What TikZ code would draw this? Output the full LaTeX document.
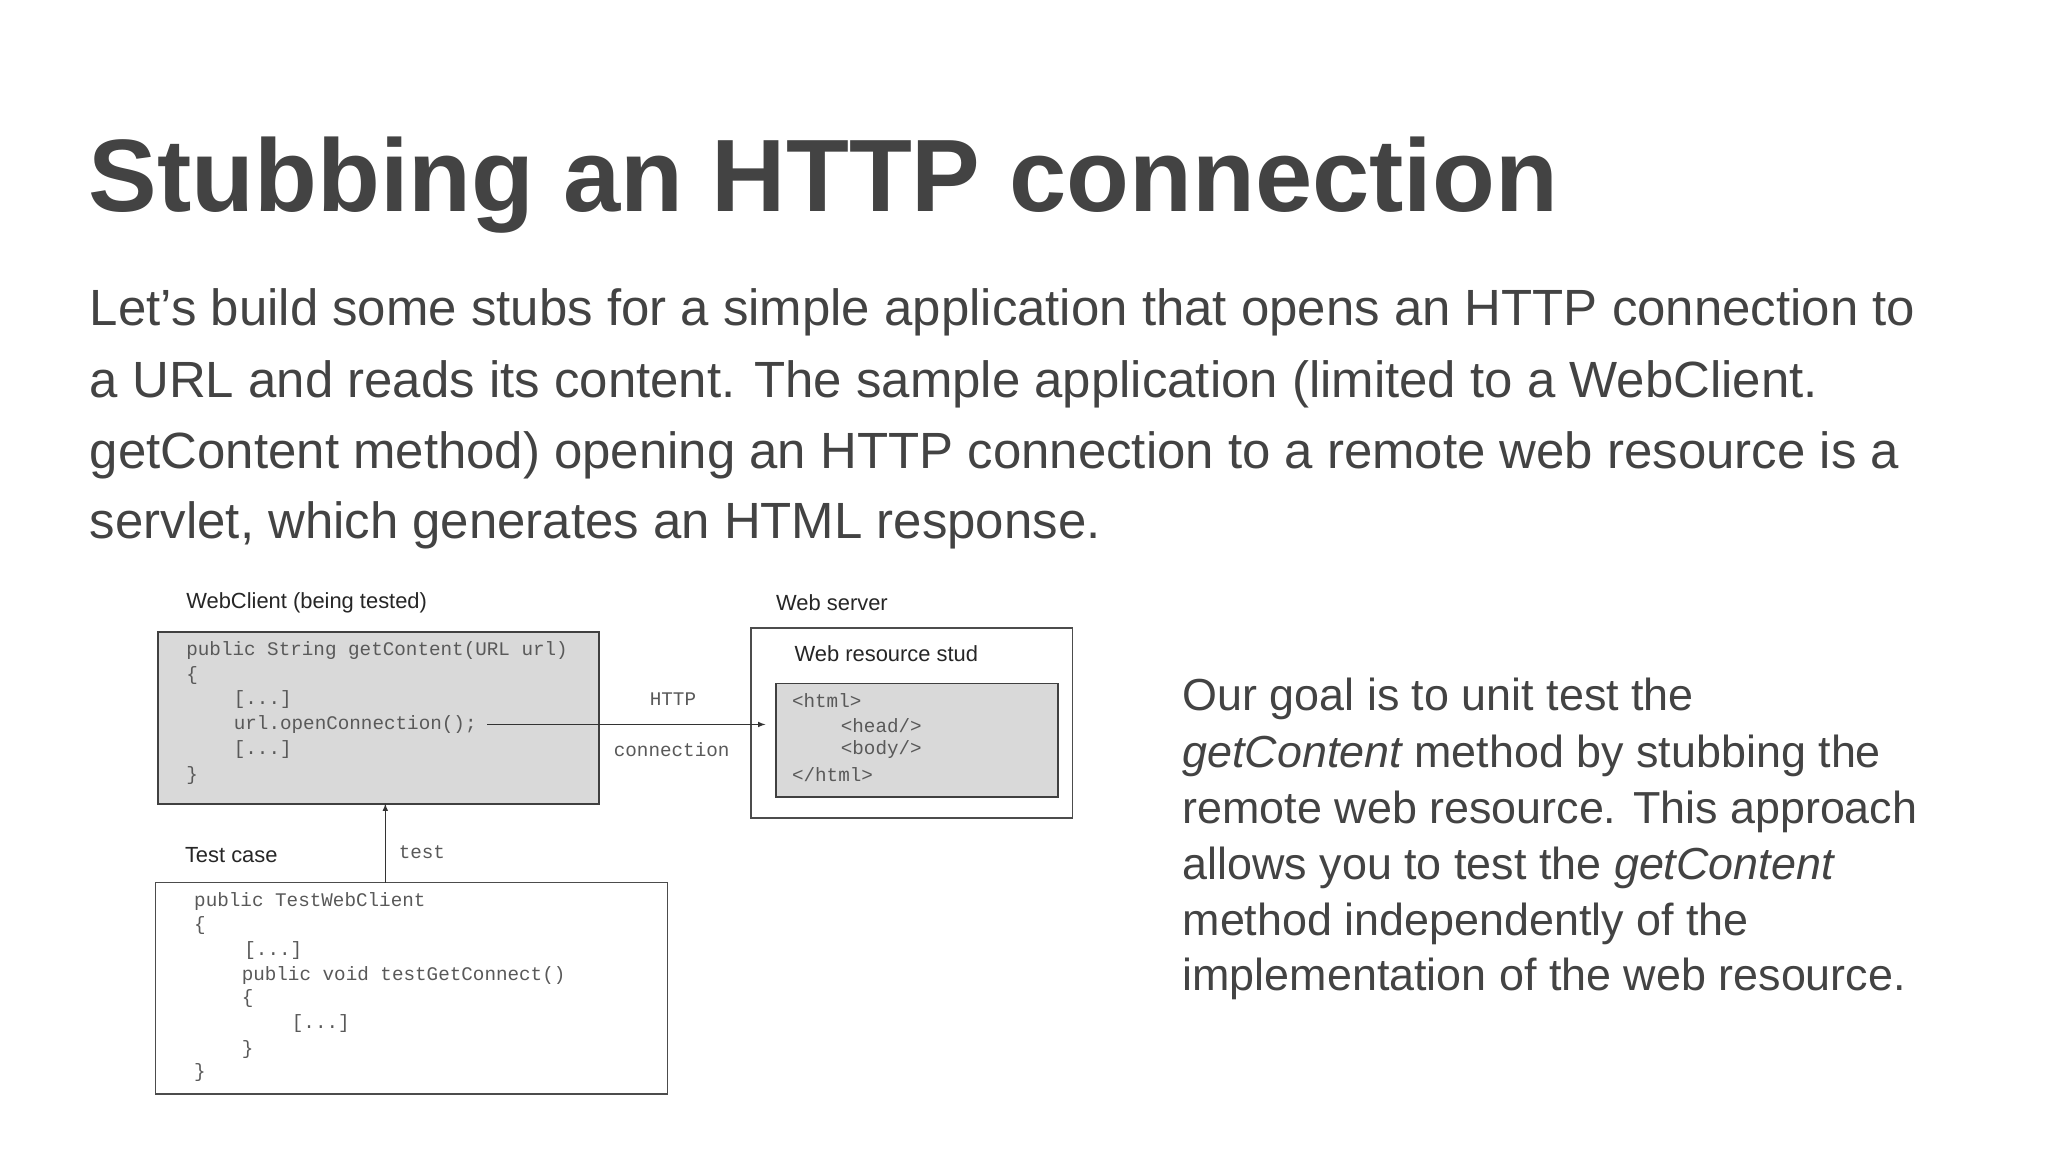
\documentclass[tikz,border=0pt]{standalone}
\usepackage{fontspec}
\setmainfont{Liberation Sans}
\setmonofont{Liberation Mono}
\begin{document}
\begin{tikzpicture}[x=1pt,y=-1pt,
  txt/.style={anchor=west,inner sep=0,text=tc},
  lbl/.style={anchor=west,inner sep=0,text=black!85,font=\fontsize{16.6}{18}\selectfont},
  code/.style={anchor=west,inner sep=0,text=black!65,font=\ttfamily\fontsize{14.6}{16}\selectfont},
  boxd/.style={draw=black!75,line width=1.3pt},
  arr/.style={-latex,draw=black!80,line width=0.9pt}]
\definecolor{tc}{HTML}{434343}
\useasboundingbox (0,0) rectangle (1552,873);
\fill[white] (0,0) rectangle (1552,873);
\node[txt,font=\bfseries\fontsize{78}{82}\selectfont] (title) at (67,140) {Stubbing an HTTP connection};
\begin{scope}[every node/.style={txt,font=\fontsize{38.6}{42}\selectfont}]
\node (p1) at (68,237) {Let’s build some stubs for a simple application that opens an HTTP connection to};
\node (p2) at (68,291) {a URL and reads its content. The sample application (limited to a WebClient.};
\node (p3) at (68,345) {getContent method) opening an HTTP connection to a remote web resource is a};
\node (p4) at (68,398) {servlet, which generates an HTML response.};
\end{scope}
\begin{scope}[every node/.style={txt,font=\fontsize{34}{38}\selectfont}]
\node (r1) at (896,530) {Our goal is to unit test the};
\node (r2) at (896,573) {\itshape getContent\upshape{} method by stubbing the};
\node (r3) at (896,615) {remote web resource. This approach};
\node (r4) at (896,658) {allows you to test the \itshape getContent};
\node (r5) at (896,700) {method independently of the};
\node (r6) at (896,742) {implementation of the web resource.};
\end{scope}
% WebClient
\node[lbl] (l1) at (141,457) {WebClient (being tested)};
\draw[boxd,fill=black!15] (120,479) rectangle (454,609);
\coordinate (wcb) at (292,609);
\node[code] at (141,493) {public String getContent(URL url)};
\node[code] at (141,512) {\{};
\node[code] at (177,530) {[...]};
\node[code] (oc) at (177,549) {url.openConnection();};
\node[code] at (177,568) {[...]};
\node[code] at (141,588) {\}};
% web server
\node[lbl] (l2) at (588,457) {Web server};
\draw[line width=1pt,draw=black!70] (569,476) rectangle (813,620);
\node[lbl] (l3) at (602,495) {Web resource stud};
\draw[boxd,fill=black!15] (588,518) rectangle (802,604);
\coordinate (inl) at (580,549);
\node[code] at (600,531) {<html>};
\node[code] at (637,550) {<head/>};
\node[code] at (637,568) {<body/>};
\node[code] at (600,587) {</html>};
\draw[arr] (oc.east)++(8,0) coordinate (oce) -- (inl);
\node[code,anchor=center] (h1) at (510,530) {HTTP};
\node[code,anchor=center] (h2) at (509,568) {connection};
% test case
\node[lbl] (l4) at (140,648) {Test case};
\draw[line width=1pt,draw=black!70] (118,669) rectangle (506,829);
\coordinate (tct) at (292,669);
\draw[arr] (tct) -- (wcb);
\node[code] (tl) at (302,646) {test};
\node[code] at (147,683) {public TestWebClient};
\node[code] at (147,701) {\{};
\node[code] at (185,720) {[...]};
\node[code] at (183,739) {public void testGetConnect()};
\node[code] at (183,757) {\{};
\node[code] at (221,776) {[...]};
\node[code] at (183,795) {\}};
\node[code] at (147,813) {\}};
\end{tikzpicture}
\end{document}
